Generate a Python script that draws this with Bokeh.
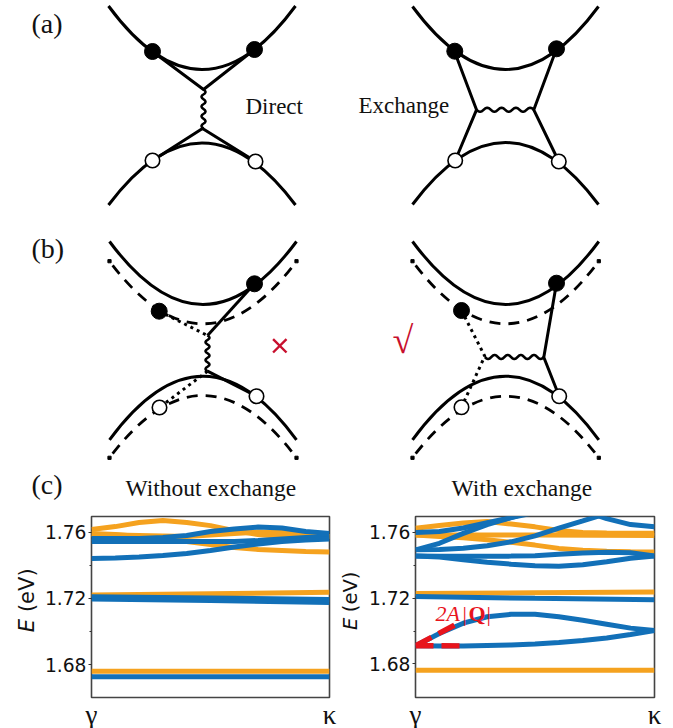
from bokeh.embed import file_html
from bokeh.resources import INLINE
from bokeh.plotting import figure
from bokeh.layouts import column, row
from bokeh.models import Range1d, FixedTicker
from bokeh.core.properties import value
import math

# ---------- band data (c) ----------
k = [0, .1, .2, .3, .4, .5, .6, .7, .8, .9, 1]
k3 = [0, .5, 1]
left_orange = [
    [1.7616, 1.7634, 1.7659, 1.7671, 1.7659, 1.7640, 1.7610, 1.7586, 1.7574, 1.7574, 1.7574],
    [1.7592, 1.7586, 1.7574, 1.7562, 1.7544, 1.7526, 1.7508, 1.7496, 1.7490, 1.7484, 1.7481],
    [1.7586, 1.7583, 1.7580, 1.7577, 1.7574, 1.7583, 1.7592, 1.7601, 1.7598, 1.7586, 1.7574],
]
left_orange_flat = [[1.7221, 1.7229, 1.7237], [1.6760, 1.6760, 1.6760]]
left_blue = [
    [1.7562, 1.7562, 1.7562, 1.7568, 1.7580, 1.7604, 1.7619, 1.7631, 1.7625, 1.7604, 1.7592],
    [1.7544, 1.7544, 1.7544, 1.7544, 1.7544, 1.7544, 1.7544, 1.7550, 1.7559, 1.7568, 1.7568],
    [1.7441, 1.7444, 1.7450, 1.7459, 1.7472, 1.7490, 1.7511, 1.7529, 1.7544, 1.7553, 1.7559],
]
left_blue_flat = [[1.7210, 1.7203, 1.7194], [1.7197, 1.7187, 1.7176], [1.6728, 1.6728, 1.6728]]

right_orange = [
    [1.7626, 1.7642, 1.7657, 1.7666, 1.7651, 1.7634, 1.7612, 1.7600, 1.7597, 1.7595, 1.7595],
    [1.7584, 1.7576, 1.7567, 1.7555, 1.7540, 1.7523, 1.7503, 1.7491, 1.7485, 1.7482, 1.7481],
]
right_orange_flat = [[1.7584, 1.7585, 1.7582], [1.7228, 1.7233, 1.7238], [1.6762, 1.6762, 1.6762]]
right_blue = [
    [1.7457, 1.7455, 1.7455, 1.7455, 1.7456, 1.7458, 1.7467, 1.7475, 1.7479, 1.7476, 1.7457],
    [1.7457, 1.7451, 1.7434, 1.7419, 1.7407, 1.7398, 1.7395, 1.7404, 1.7422, 1.7443, 1.7457],
    [1.6911, 1.6985, 1.7048, 1.7087, 1.7102, 1.7102, 1.7087, 1.7066, 1.7042, 1.7018, 1.7003],
    [1.6911, 1.6910, 1.6910, 1.6913, 1.6916, 1.6922, 1.6931, 1.6943, 1.6958, 1.6979, 1.7003],
]
right_blue_rise_k = [0, .1, .2, .3, .4, .5]
right_blue_rise = [
    [1.7600, 1.7606, 1.7627, 1.7660, 1.7690, 1.7721],
    [1.7494, 1.7534, 1.7594, 1.7648, 1.7690, 1.7733],
]
right_blue_peak_k = [0, .1, .2, .3, .4, .5, .6, .7, .8]
right_blue_peak = [1.7494, 1.7497, 1.7504, 1.7519, 1.7543, 1.7579, 1.7626, 1.7670, 1.7715]
right_blue_fall_k = [.7, .8, .9, 1]
right_blue_fall = [1.7733, 1.7684, 1.7648, 1.7634]
right_blue_flat = [1.7210, 1.7199, 1.7190]
red_k = [0, .165]
red_up = [1.6911, 1.7037]
red_k2 = [0, .19]
red_flat = [1.6911, 1.6910]

e_ticks = [1.68, 1.72, 1.76]
e_minor = [1.70, 1.74]
k_labels = {0: "γ", 1: "κ"}

ORANGE = "#F5A21F"
BLUE = "#1270B8"
RED = "#E8141C"
CRIM = "#C8102E"
SERIF = "Liberation Serif"
INK = "#111111"

# ---------- schematic (a), (b): (x0, x1, y_end, y_apex) ----------
a_bands = [(108, 295, 5.5, 69), (108, 295, 204.5, 142.5), (412, 598, 6, 69), (412, 598, 204, 142)]
b_solid = [(109, 296, 241, 304), (109, 296, 439.3, 375.7), (412, 598.3, 241, 304), (412, 598.3, 439.3, 375.7)]
b_dashed = [(109, 296, 260.7, 323.3), (109, 296, 457.3, 395), (412, 598.3, 260.7, 323.3), (412, 598.3, 457.3, 395.7)]
filled_x = [152, 254, 454.3, 556, 254, 158.7, 556, 461]
filled_y = [51, 49, 50.7, 48.3, 283.3, 310.7, 282.7, 310]
open_x = [152, 255, 454.7, 558.3, 256, 159, 558.7, 461]
open_y = [160, 161, 160, 161, 395.7, 407, 395.7, 406.7]
solid_paths = [
    ([152, 203, 254], [51, 89, 49]),
    ([152, 202, 255], [160, 128, 161]),
    ([454, 476, 454.7], [51, 109.3, 160]),
    ([556, 533.3, 558.3], [48.3, 109.3, 161]),
    ([254, 207], [283.3, 335]),
    ([207, 256], [370.7, 395.7]),
    ([556, 543.3, 558.7], [282.7, 356.7, 395.7]),
]
dotted_paths = [
    ([158.7, 207], [310.7, 335]),
    ([207, 159], [370.7, 407]),
    ([461, 484.3, 461], [310, 355.7, 406.7]),
]
wiggle = [0, 1.5, 2.1, 1.5, 0, -1.5, -2.1, -1.5]
wave_v = [(203, 89, 128, 4), (207, 335, 370.7, 4)]
wave_h = [(476, 533.3, 109.3, 4), (484.3, 543.3, 356.5, 4.5)]


def wave(n_periods):
    n = int(n_periods * len(wiggle))
    offs = [wiggle[i % len(wiggle)] for i in range(n + 1)]
    ts = [i / n for i in range(n + 1)]
    return ts, offs


def txt(p, x, y, s, font=SERIF, size=23, color=INK, style="normal", angle=0, sx=1.0, sy=-1.0):
    """(sx, sy): data units per screen pixel. The SVG text sits 0.32 em off its anchor; compensate."""
    if angle:
        x, y = x - .32 * size * sx, y - .6 * size * sy
    else:
        y = y + .32 * size * sy
    p.text([x], [y], text=[s], text_font=value(font), text_font_size=f"{size}px", text_color=color,
           text_font_style=style, text_baseline="alphabetic", text_align="left", angle=angle)


TOPH = 501
top = figure(width=673, height=TOPH, x_range=Range1d(0, 673), y_range=Range1d(TOPH, 0),
             x_axis_type=None, y_axis_type=None, toolbar_location=None, output_backend="svg",
             min_border=0, outline_line_color=None)
top.grid.visible = False

for x0, x1, ye, ya in a_bands + b_solid:
    top.quadratic(x0=[x0], y0=[ye], x1=[x1], y1=[ye], cx=[(x0 + x1) / 2], cy=[2 * ya - ye],
                  line_color="black", line_width=3)
for x0, x1, ye, ya in b_dashed:
    top.quadratic(x0=[x0], y0=[ye], x1=[x1], y1=[ye], cx=[(x0 + x1) / 2], cy=[2 * ya - ye],
                  line_color="black", line_width=2.8, line_dash="11 8", line_dash_offset=14)
    top.scatter([x0, x1], [ye, ye], size=3.2, marker="square", color="black")
for xs, ys in solid_paths:
    top.line(xs, ys, line_color="black", line_width=3, line_join="round")
for xs, ys in dotted_paths:
    top.line(xs, ys, line_color="black", line_width=3, line_dash="3 4")
for x, y0, y1, n in wave_v:
    ts, offs = wave(n)
    top.line([x + o for o in offs], [y0 + t * (y1 - y0) for t in ts], line_color="black", line_width=2.5)
for x0, x1, y, n in wave_h:
    ts, offs = wave(n)
    top.line([x0 + t * (x1 - x0) for t in ts], [y + o for o in offs], line_color="black", line_width=2.5)

top.scatter(filled_x, filled_y, size=16, marker="circle", color="black")
top.scatter(open_x, open_y, size=14.5, marker="circle", fill_color="white", line_color="black", line_width=1.6)
top.scatter([279.3], [345.3], size=19, marker="x", line_color=CRIM, line_width=2.4)

txt(top, 31, 32, "(a)", size=28)
txt(top, 31, 257, "(b)", size=28)
txt(top, 31, 493, "(c)", size=28)
txt(top, 245, 113, "Direct")
txt(top, 358, 112, "Exchange")
txt(top, 125, 495, "Without exchange", size=23.5)
txt(top, 451, 495, "With exchange", size=23.5)
txt(top, 392, 352, "√", size=38, color=CRIM)


def style(p):
    p.grid.visible = False
    p.xaxis.ticker = FixedTicker(ticks=[0, 1])
    p.xaxis.major_label_overrides = k_labels
    p.xaxis.major_label_text_font = SERIF
    p.xaxis.major_label_text_font_size = "27px"
    p.xaxis.major_label_text_color = INK
    p.xaxis.major_tick_line_color = None
    p.xaxis.minor_tick_line_color = None
    p.xaxis.major_tick_out = 0
    p.xaxis.major_tick_in = 0
    p.xaxis.minor_tick_out = 0
    p.xaxis.minor_tick_in = 0
    p.xaxis.axis_line_color = None
    p.xaxis.major_label_standoff = 2
    p.yaxis.ticker = FixedTicker(ticks=e_ticks, minor_ticks=e_minor)
    p.yaxis.major_label_text_font = "DejaVu Sans"
    p.yaxis.major_label_text_font_size = "18.7px"
    p.yaxis.major_label_text_color = INK
    p.yaxis.axis_line_color = None
    p.yaxis.major_tick_line_color = "#333333"
    p.yaxis.minor_tick_line_color = "#333333"
    p.yaxis.major_tick_in = 0
    p.yaxis.major_tick_out = 3
    p.yaxis.minor_tick_in = 0
    p.yaxis.minor_tick_out = 2
    p.yaxis.major_label_standoff = 2


def label_strip(x0, x1):
    s = figure(width=x1 - x0, height=728 - TOPH, x_range=Range1d(x0, x1), y_range=Range1d(728, TOPH),
               x_axis_type=None, y_axis_type=None, toolbar_location=None, output_backend="svg",
               min_border=0, outline_line_color=None)
    s.grid.visible = False
    return s


LW = 5

strip_l = label_strip(0, 40)
txt(strip_l, 33, 637, "E", font="DejaVu Sans", size=21, style="italic", angle=math.pi / 2)
txt(strip_l, 33, 611, "(eV)", font="DejaVu Sans", size=21, angle=math.pi / 2)

FLX, FRX, FTY, FBY = 91, 329, 516, 697
pl = figure(width=300, height=728 - TOPH, x_range=Range1d(0, 1), y_range=Range1d(1.6602, 1.7695),
            toolbar_location=None, output_backend="svg", frame_width=FRX - FLX, frame_height=FBY - FTY,
            min_border_left=FLX - 40, min_border_right=340 - FRX, min_border_top=FTY - TOPH, min_border_bottom=728 - FBY,
            outline_line_color="#444444", outline_line_width=1.6)
style(pl)
for s in left_orange:
    pl.line(k, s, line_color=ORANGE, line_width=LW)
for s in left_orange_flat:
    pl.line(k3, s, line_color=ORANGE, line_width=LW)
for s in left_blue:
    pl.line(k, s, line_color=BLUE, line_width=LW)
for s in left_blue_flat:
    pl.line(k3, s, line_color=BLUE, line_width=LW)

strip_r = label_strip(340, 362)
txt(strip_r, 356.5, 635, "E", font="DejaVu Sans", size=19.5, style="italic", angle=math.pi / 2)
txt(strip_r, 356.5, 612, "(eV)", font="DejaVu Sans", size=19.5, angle=math.pi / 2)

RLX, RRX, RTY, RBY = 415, 654, 514, 695
pr = figure(width=311, height=728 - TOPH, x_range=Range1d(0, 1), y_range=Range1d(1.6596, 1.7697),
            toolbar_location=None, output_backend="svg", frame_width=RRX - RLX, frame_height=RBY - RTY,
            min_border_left=RLX - 362, min_border_right=673 - RRX, min_border_top=RTY - TOPH, min_border_bottom=728 - RBY,
            outline_line_color="#444444", outline_line_width=1.6)
style(pr)
for s in right_orange:
    pr.line(k, s, line_color=ORANGE, line_width=LW)
for s in right_orange_flat:
    pr.line(k3, s, line_color=ORANGE, line_width=LW)
for s in right_blue:
    pr.line(k, s, line_color=BLUE, line_width=LW)
for s in right_blue_rise:
    pr.line(right_blue_rise_k, s, line_color=BLUE, line_width=LW)
pr.line(right_blue_peak_k, right_blue_peak, line_color=BLUE, line_width=LW)
pr.line(right_blue_fall_k, right_blue_fall, line_color=BLUE, line_width=LW)
pr.line(k3, right_blue_flat, line_color=BLUE, line_width=LW)
pr.line(red_k, red_up, line_color=RED, line_width=LW + .4, line_dash="18 8")
pr.line(red_k2, red_flat, line_color=RED, line_width=LW + .4, line_dash="18 8")


def rtxt(x, y, s, **kw):
    dx = (x - RLX) / (RRX - RLX)
    dy = 1.7697 - (y - RTY) / (RBY - RTY) * (1.7697 - 1.6596)
    txt(pr, dx, dy, s, sx=1 / (RRX - RLX), sy=(1.7697 - 1.6596) / (RBY - RTY), **kw)


rtxt(435, 618, "2A", size=22, style="italic", color=RED)
rtxt(462, 618, "|", size=22, color=RED)
rtxt(468, 618, "Q", size=22, style="bold", color=RED)
rtxt(486, 618, "|", size=22, color=RED)

page = column(top, row(strip_l, pl, strip_r, pr, spacing=0), spacing=0, margin=0)
open("out.html", "w").write(file_html(page, INLINE))
